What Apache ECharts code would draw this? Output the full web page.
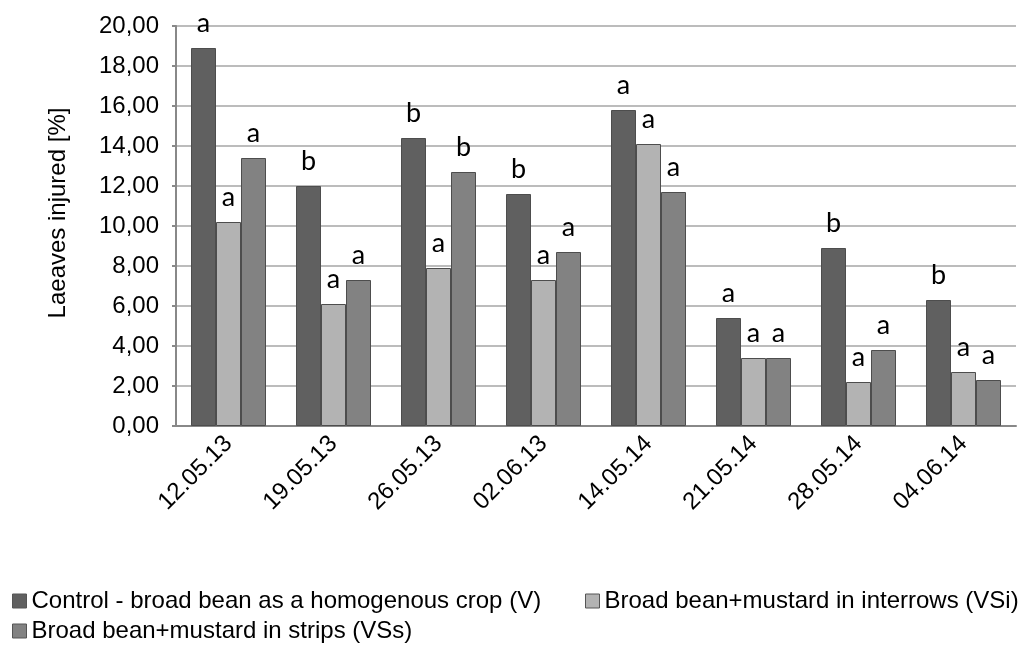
<!DOCTYPE html>
<html>
<head>
<meta charset="utf-8">
<script src="https://cdn.jsdelivr.net/npm/echarts@6/dist/echarts.min.js"></script>
<style>
  html, body { margin: 0; padding: 0; background: #fff; }
  #chart { width: 1020px; height: 650px; }
</style>
</head>
<body>
<div id="chart"></div>
<script>
  // data
  const dates = ['12.05.13', '19.05.13', '26.05.13', '02.06.13', '14.05.14', '21.05.14', '28.05.14', '04.06.14']
  const seriesNames = [
    'Control - broad bean as a homogenous crop (V)',
    'Broad bean+mustard in interrows (VSi)',
    'Broad bean+mustard in strips (VSs)'
  ]
  const valuesV = [18.9, 12.0, 14.4, 11.6, 15.8, 5.4, 8.9, 6.3]
  const valuesVSi = [10.2, 6.1, 7.9, 7.3, 14.1, 3.4, 2.2, 2.7]
  const valuesVSs = [13.4, 7.3, 12.7, 8.7, 11.7, 3.4, 3.8, 2.3]
  const lettersV = ['a', 'b', 'b', 'b', 'a', 'a', 'b', 'b']
  const lettersVSi = ['a', 'a', 'a', 'a', 'a', 'a', 'a', 'a']
  const lettersVSs = ['a', 'a', 'b', 'a', 'a', 'a', 'a', 'a']

  const colors = ['#606060', '#b3b3b3', '#828282']
  const font = 'Liberation Sans, Arial, sans-serif'

  const myChart = echarts.init(document.getElementById('chart'))

  function makeSeries(name, values, letters, color) {
    return {
      name: name,
      type: 'bar',
      barWidth: 25,
      barGap: '0%',
      data: values,
      itemStyle: {
        color: color,
        borderColor: '#4d4d4d',
        borderWidth: 1
      },
      label: {
        show: true,
        position: 'top',
        distance: 11,
        fontFamily: 'Lato, sans-serif',
        fontSize: 27,
        color: '#000',
        formatter: (p) => letters[p.dataIndex]
      }
    }
  }

  // one legend per item, the Excel legend wraps in its own way
  function makeLegend(name, left, top) {
    return {
      orient: 'horizontal',
      icon: 'rect',
      padding: 0,
      left: left,
      top: top,
      itemWidth: 14,
      itemHeight: 14,
      itemTextGap: 2,
      itemStyle: { borderColor: '#555', borderWidth: 1 },
      textStyle: { fontFamily: font, fontSize: 24, color: '#000' },
      data: [name]
    }
  }

  const option = {
    backgroundColor: '#fff',
    animation: false,
    grid: {
      left: 176,
      right: 4,
      top: 26,
      bottom: 224,
      containLabel: false
    },
    legend: [
      makeLegend(seriesNames[0], 12, 589),
      makeLegend(seriesNames[1], 585, 589),
      makeLegend(seriesNames[2], 12, 619)
    ],
    xAxis: {
      type: 'category',
      data: dates,
      axisLine: { lineStyle: { color: '#888', width: 2 } },
      axisTick: { show: false },
      axisLabel: {
        rotate: 45,
        margin: 14,
        fontFamily: font,
        fontSize: 24,
        color: '#000'
      }
    },
    yAxis: {
      type: 'value',
      min: 0,
      max: 20,
      interval: 2,
      name: 'Laeaves injured [%]',
      nameLocation: 'middle',
      nameGap: 106,
      nameTextStyle: {
        fontFamily: font,
        fontSize: 24,
        color: '#000',
        padding: [0, 0, 0, 26]
      },
      axisLine: { show: true, lineStyle: { color: '#888', width: 2 } },
      axisTick: { show: true, length: 4, lineStyle: { color: '#888', width: 2 } },
      splitLine: { lineStyle: { color: '#a6a6a6', width: 1.5 } },
      axisLabel: {
        margin: 17,
        fontFamily: font,
        fontSize: 24,
        color: '#000',
        formatter: (v) => v.toFixed(2).replace('.', ',')
      }
    },
    series: [
      makeSeries(seriesNames[0], valuesV, lettersV, colors[0]),
      makeSeries(seriesNames[1], valuesVSi, lettersVSi, colors[1]),
      makeSeries(seriesNames[2], valuesVSs, lettersVSs, colors[2])
    ]
  }

  myChart.setOption(option)
</script>
</body>
</html>
